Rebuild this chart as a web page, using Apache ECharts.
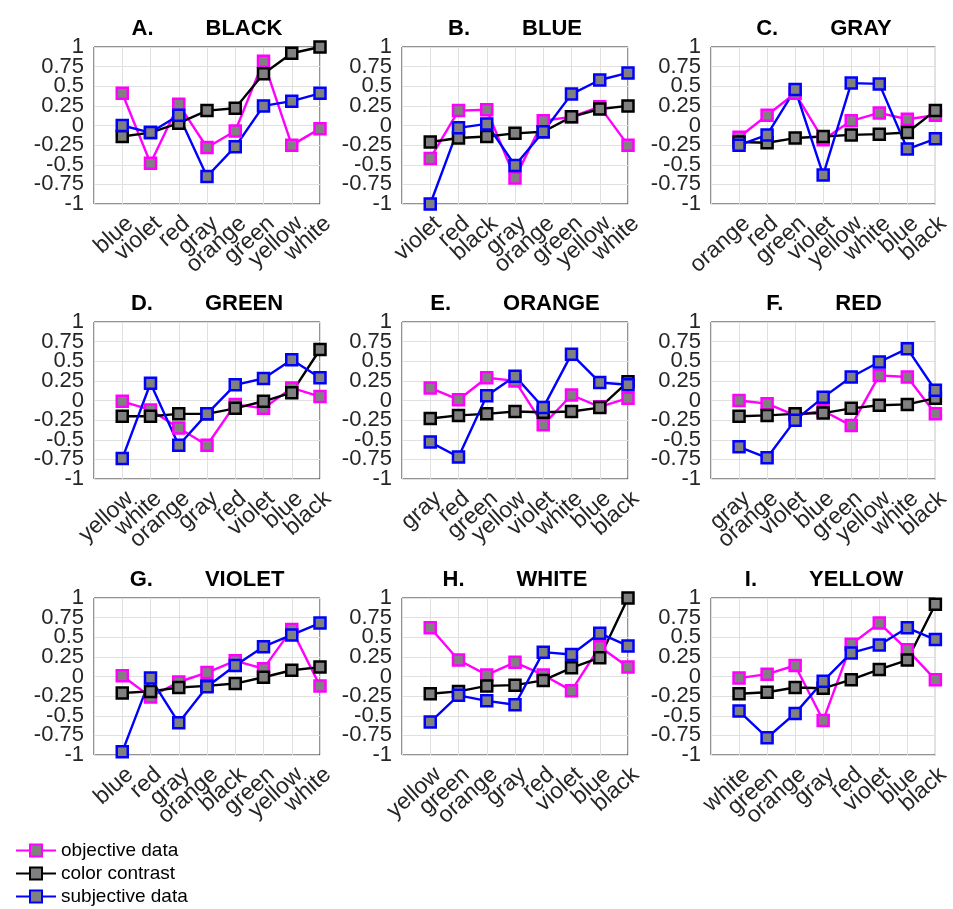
<!DOCTYPE html>
<html>
<head>
<meta charset="utf-8">
<script src="https://cdn.jsdelivr.net/npm/echarts@6/dist/echarts.min.js"></script>
<style>html,body{margin:0;padding:0;background:#fff;}#c{width:953px;height:909px;}</style>
</head>
<body>
<div id="c"></div>
<script>
// ---- data ----
const panelLetters = ['A.', 'B.', 'C.', 'D.', 'E.', 'F.', 'G.', 'H.', 'I.'];
const panelTitles = ['BLACK', 'BLUE', 'GRAY', 'GREEN', 'ORANGE', 'RED', 'VIOLET', 'WHITE', 'YELLOW'];
const yTicks = [-1, -0.75, -0.5, -0.25, 0, 0.25, 0.5, 0.75, 1];
const seriesNames = ['objective data', 'color contrast', 'subjective data'];

const catsA = ['blue', 'violet', 'red', 'gray', 'orange', 'green', 'yellow', 'white'];
const objA = [0.41, -0.48, 0.27, -0.28, -0.07, 0.82, -0.25, -0.04];
const conA = [-0.14, -0.09, 0.03, 0.19, 0.22, 0.66, 0.92, 1.0];
const subA = [0.0, -0.09, 0.13, -0.65, -0.27, 0.25, 0.31, 0.41];

const catsB = ['violet', 'red', 'black', 'gray', 'orange', 'green', 'yellow', 'white'];
const objB = [-0.42, 0.19, 0.20, -0.67, 0.06, 0.11, 0.24, -0.25];
const conB = [-0.21, -0.16, -0.14, -0.10, -0.08, 0.11, 0.21, 0.25];
const subB = [-1.0, -0.03, 0.02, -0.51, -0.08, 0.40, 0.58, 0.67];

const catsC = ['orange', 'red', 'green', 'violet', 'yellow', 'white', 'blue', 'black'];
const objC = [-0.15, 0.13, 0.41, -0.18, 0.06, 0.16, 0.08, 0.13];
const conC = [-0.21, -0.22, -0.16, -0.14, -0.12, -0.11, -0.09, 0.19];
const subC = [-0.25, -0.12, 0.46, -0.63, 0.54, 0.53, -0.30, -0.17];

const catsD = ['yellow', 'white', 'orange', 'gray', 'red', 'violet', 'blue', 'black'];
const objD = [-0.01, -0.12, -0.35, -0.57, -0.05, -0.10, 0.16, 0.05];
const conD = [-0.20, -0.20, -0.17, -0.17, -0.10, -0.01, 0.10, 0.65];
const subD = [-0.74, 0.22, -0.57, -0.17, 0.20, 0.28, 0.52, 0.29];

const catsE = ['gray', 'red', 'green', 'yellow', 'violet', 'white', 'blue', 'black'];
const objE = [0.16, 0.01, 0.29, 0.25, -0.31, 0.07, -0.08, 0.03];
const conE = [-0.23, -0.19, -0.17, -0.14, -0.15, -0.14, -0.09, 0.24];
const subE = [-0.53, -0.72, 0.06, 0.31, -0.09, 0.59, 0.23, 0.20];

const catsF = ['gray', 'orange', 'violet', 'blue', 'green', 'yellow', 'white', 'black'];
const objF = [0.0, -0.04, -0.19, -0.13, -0.32, 0.32, 0.30, -0.17];
const conF = [-0.20, -0.19, -0.17, -0.16, -0.10, -0.06, -0.05, 0.03];
const subF = [-0.59, -0.73, -0.25, 0.04, 0.30, 0.49, 0.66, 0.13];

const catsG = ['blue', 'red', 'gray', 'orange', 'black', 'green', 'yellow', 'white'];
const objG = [0.01, -0.26, -0.07, 0.05, 0.20, 0.10, 0.60, -0.12];
const conG = [-0.21, -0.19, -0.14, -0.12, -0.09, -0.01, 0.08, 0.12];
const subG = [-0.96, -0.02, -0.59, -0.13, 0.14, 0.38, 0.53, 0.68];

const catsH = ['yellow', 'green', 'orange', 'gray', 'red', 'violet', 'blue', 'black'];
const objH = [0.62, 0.21, 0.02, 0.18, 0.02, -0.18, 0.38, 0.12];
const conH = [-0.22, -0.19, -0.12, -0.11, -0.05, 0.11, 0.24, 1.0];
const subH = [-0.58, -0.24, -0.31, -0.36, 0.31, 0.28, 0.55, 0.39];

const catsI = ['white', 'green', 'orange', 'gray', 'red', 'violet', 'blue', 'black'];
const objI = [-0.02, 0.03, 0.14, -0.56, 0.41, 0.68, 0.34, -0.04];
const conI = [-0.22, -0.20, -0.14, -0.15, -0.04, 0.09, 0.21, 0.92];
const subI = [-0.44, -0.78, -0.47, -0.06, 0.30, 0.40, 0.62, 0.47];

// ---- build ----
const allCats = [catsA, catsB, catsC, catsD, catsE, catsF, catsG, catsH, catsI];
const allObj = [objA, objB, objC, objD, objE, objF, objG, objH, objI];
const allCon = [conA, conB, conC, conD, conE, conF, conG, conH, conI];
const allSub = [subA, subB, subC, subD, subE, subF, subG, subH, subI];

const lineColors = ['#ff00ff', '#000000', '#0000ff'];
const FONT = 'Liberation Sans, Arial, Helvetica, sans-serif';
const colLeft = [94, 402, 711];
const rowTop = [47, 322, 598];
const GW = 226, GH = 157;

const grids = [], xAxes = [], yAxes = [], titles = [], series = [];
for (let p = 0; p < 9; p++) {
  const r = Math.floor(p / 3), c = p % 3;
  const left = colLeft[c], top = rowTop[r];
  grids.push({left: left, top: top, width: GW, height: GH, show: true,
    borderColor: '#262626', borderWidth: 1, backgroundColor: '#fff'});
  const cats = allCats[p];
  // two x axes per panel (alternating labels) so every label is kept
  for (let k = 0; k < 2; k++) {
    xAxes.push({
      type: 'value', gridIndex: p, position: 'bottom', min: 0, max: cats.length, interval: 1,
      axisLine: {show: false}, axisTick: {show: false},
      splitLine: {show: k === 0, lineStyle: {color: '#e0e0e0', width: 1}},
      axisLabel: {
        rotate: 42, margin: 8, fontSize: 23, color: '#262626', fontFamily: FONT,
        verticalAlign: 'top',
        showMinLabel: true, showMaxLabel: true,
        formatter: (v) => {
          const i = Math.round(v);
          return (i >= 1 && i <= cats.length && i % 2 === k) ? cats[i - 1] : '';
        }
      }
    });
  }
  // two y axes per panel (alternating labels)
  for (let k = 0; k < 2; k++) {
    yAxes.push({
      type: 'value', gridIndex: p, position: 'left', min: yTicks[0], max: yTicks[yTicks.length - 1], interval: 0.25,
      axisLine: {show: false}, axisTick: {show: false},
      splitLine: {show: k === 0, lineStyle: {color: '#e0e0e0', width: 1}},
      axisLabel: {fontSize: 22, color: '#262626', fontFamily: FONT, margin: 10,
        showMinLabel: true, showMaxLabel: true,
        formatter: (v) => {
          const q = Math.round(v * 4);
          return (Math.abs(q) % 2 === k) ? String(q / 4) : '';
        }}
    });
  }
  titles.push({
    text: '{a|' + panelLetters[p] + '}{g| }{b|' + panelTitles[p] + '}',
    left: left + GW / 2, top: top - 29, textAlign: 'center', padding: 0,
    textStyle: {
      rich: {
        a: {fontSize: 22, fontWeight: 'bold', color: '#000', fontFamily: FONT},
        g: {width: 52, fontSize: 22},
        b: {fontSize: 22, fontWeight: 'bold', color: '#000', fontFamily: FONT}
      }
    }
  });
  const sets = [allObj[p], allCon[p], allSub[p]];
  for (let s = 0; s < 3; s++) {
    series.push({
      type: 'line', name: seriesNames[s], xAxisIndex: 2 * p, yAxisIndex: 2 * p,
      data: sets[s].map((v, i) => [i + 1, v]),
      symbol: 'rect', symbolSize: 11, showAllSymbol: true,
      lineStyle: {color: lineColors[s], width: 2.4},
      itemStyle: {color: '#808080', borderColor: lineColors[s], borderWidth: 2.5},
      emphasis: {disabled: true},
      clip: false
    });
  }
}

const chart = echarts.init(document.getElementById('c'), null, {renderer: 'canvas'});
chart.setOption({
  animation: false,
  backgroundColor: '#fff',
  title: titles,
  grid: grids,
  xAxis: xAxes,
  yAxis: yAxes,
  legend: {
    data: seriesNames, orient: 'vertical', left: 15, top: 841, padding: 0,
    itemWidth: 40, itemHeight: 15, itemGap: 4,
    textStyle: {fontSize: 19, color: '#000', fontFamily: FONT}
  },
  series: series
});
</script>
</body>
</html>
